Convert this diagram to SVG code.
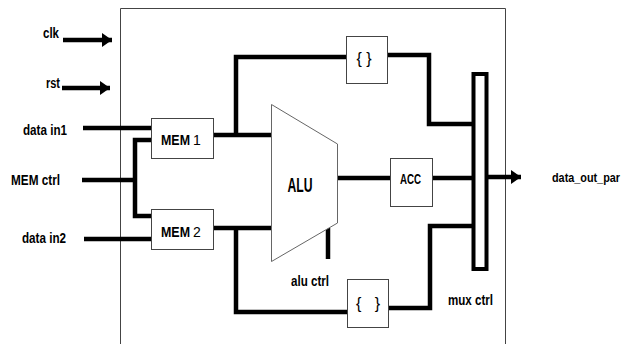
<svg xmlns="http://www.w3.org/2000/svg" width="626" height="344" viewBox="0 0 626 344">
<defs>
<style>
.t{font-family:"Liberation Sans",Arial,sans-serif;font-weight:bold;fill:#000}
.n{font-family:"Liberation Sans",Arial,sans-serif;fill:#000}
.w{fill:none;stroke:#000;stroke-width:4.5;stroke-linejoin:miter}
.box{fill:#fff;stroke:#444;stroke-width:1}
</style>
<marker id="ah" markerUnits="userSpaceOnUse" markerWidth="12" markerHeight="14" refX="10" refY="7" orient="auto">
<path d="M0,0 L10,7 L0,14 Z" fill="#000"/>
</marker>
</defs>
<rect width="626" height="344" fill="#fff"/>
<g id="frame"><path d="M120.5,352 V8.5 H505.5 V352" fill="none" stroke="#444" stroke-width="1"/></g>
<g id="connectors">
<path class="w" d="M63,40 H112" marker-end="url(#ah)"/>
<path class="w" d="M62,88 H110" marker-end="url(#ah)"/>
<path class="w" d="M83,128 H151"/>
<path class="w" d="M82,180 H135"/>
<path class="w" d="M153,140 H135 V216 H153"/>
<path class="w" d="M84,239 H151"/>
<path class="w" d="M214,135 H271"/>
<path class="w" d="M236,135 V57 H346"/>
<path class="w" d="M388,55 H429 V124 H473"/>
<path class="w" d="M214,228 H271"/>
<path class="w" d="M236,228 V312 H347"/>
<path class="w" d="M389,308 H430 V226 H473"/>
<path class="w" d="M337,178 H390"/>
<path class="w" d="M433,178 H473"/>
<path class="w" d="M487,177 H521" marker-end="url(#ah)"/>
<path class="w" d="M328,228 V259"/>
</g>
<g id="mem1"><rect class="box" x="151.5" y="118.5" width="62" height="40"/><text class="t" x="161" y="145" font-size="14" textLength="29" lengthAdjust="spacingAndGlyphs">MEM</text><text class="n" x="193" y="145" font-size="14">1</text></g>
<g id="mem2"><rect class="box" x="151.5" y="209.5" width="62" height="40"/><text class="t" x="161" y="237" font-size="14" textLength="29" lengthAdjust="spacingAndGlyphs">MEM</text><text class="n" x="193" y="237" font-size="14">2</text></g>
<g id="alu"><path d="M271.5,104.5 L337.5,144 V223 L271.5,261.5 Z" fill="#fff" stroke="#666" stroke-width="1"/><text class="t" x="300" y="192" font-size="20" text-anchor="middle" textLength="25" lengthAdjust="spacingAndGlyphs">ALU</text></g>
<g id="acc"><rect class="box" x="390.5" y="158.5" width="42" height="48"/><text class="t" x="410.5" y="184" font-size="15" text-anchor="middle" textLength="21" lengthAdjust="spacingAndGlyphs">ACC</text></g>
<g id="reg_top"><rect class="box" x="346.5" y="36.5" width="41" height="47"/><text class="n" x="364" y="64" font-size="16" text-anchor="middle" xml:space="preserve">{ }</text></g>
<g id="reg_bot"><rect class="box" x="347.5" y="279.5" width="41" height="48"/><text class="n" x="368" y="309" font-size="16" text-anchor="middle" xml:space="preserve">{   }</text></g>
<g id="mux"><rect x="473.5" y="74" width="13" height="195" fill="#fff" stroke="#000" stroke-width="4"/></g>
<g id="labels">
<text class="t" x="43" y="38" font-size="14" textLength="16" lengthAdjust="spacingAndGlyphs">clk</text>
<text class="t" x="46" y="88" font-size="14" textLength="14" lengthAdjust="spacingAndGlyphs">rst</text>
<text class="t" x="23" y="135" font-size="14" textLength="44" lengthAdjust="spacingAndGlyphs">data in1</text>
<text class="t" x="11" y="185" font-size="14" textLength="49" lengthAdjust="spacingAndGlyphs">MEM ctrl</text>
<text class="t" x="22" y="243" font-size="14" textLength="44" lengthAdjust="spacingAndGlyphs">data in2</text>
<text class="t" x="291" y="286" font-size="14" textLength="38" lengthAdjust="spacingAndGlyphs">alu ctrl</text>
<text class="t" x="448" y="305" font-size="14" textLength="45" lengthAdjust="spacingAndGlyphs">mux ctrl</text>
<text class="t" x="552" y="182" font-size="12" textLength="68" lengthAdjust="spacingAndGlyphs">data_out_par</text>
</g>
</svg>
